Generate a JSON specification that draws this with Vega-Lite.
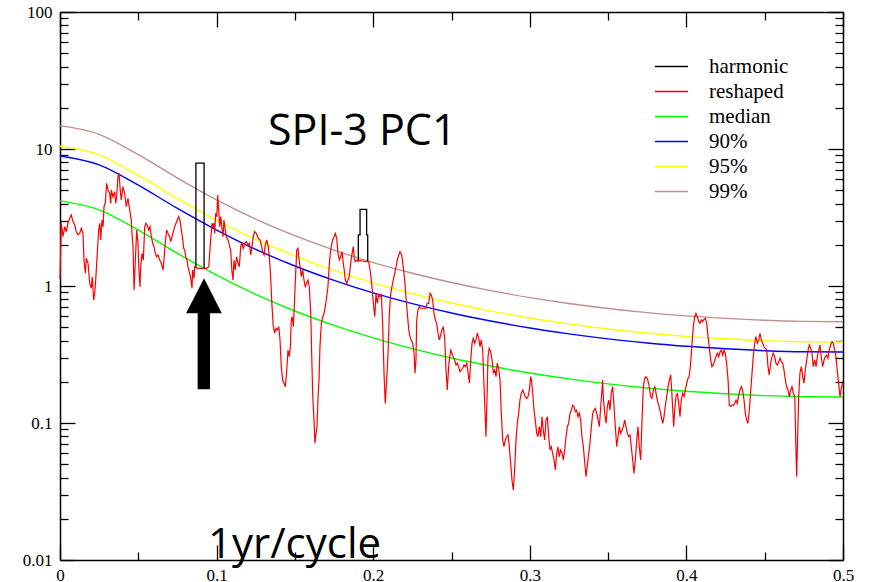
{
  "$schema": "https://vega.github.io/schema/vega-lite/v6.json",
  "width": 783,
  "height": 548,
  "autosize": {"type": "none"},
  "padding": {"left": 60, "top": 12, "right": 30, "bottom": 22},
  "background": "white",
  "config": {
    "font": "Liberation Serif",
    "view": {"stroke": null},
    "axis": {"domainColor": "black", "tickColor": "black", "labelColor": "black", "labelFont": "Liberation Serif", "labelFontSize": 17, "grid": false, "title": null, "domainWidth": 1.5, "tickWidth": 1.3}
  },
  "resolve": {"axis": {"x": "independent", "y": "independent"}},
  "datasets": {
    "bands": [
      {"s":"median","f":0,"v":4.18},{"s":"median","f":0.025,"v":3.6},{"s":"median","f":0.05,"v":2.56},{"s":"median","f":0.075,"v":1.73},{"s":"median","f":0.1,"v":1.2},{"s":"median","f":0.125,"v":0.869},{"s":"median","f":0.15,"v":0.657},{"s":"median","f":0.175,"v":0.516},{"s":"median","f":0.2,"v":0.418},{"s":"median","f":0.225,"v":0.349},{"s":"median","f":0.25,"v":0.298},{"s":"median","f":0.275,"v":0.2605},{"s":"median","f":0.3,"v":0.2318},{"s":"median","f":0.325,"v":0.2099},{"s":"median","f":0.35,"v":0.193},{"s":"median","f":0.375,"v":0.1801},{"s":"median","f":0.4,"v":0.1704},{"s":"median","f":0.425,"v":0.1633},{"s":"median","f":0.45,"v":0.1584},{"s":"median","f":0.475,"v":0.1556},{"s":"median","f":0.5,"v":0.1547},
      {"s":"90%","f":0,"v":8.9},{"s":"90%","f":0.025,"v":7.67},{"s":"90%","f":0.05,"v":5.45},{"s":"90%","f":0.075,"v":3.68},{"s":"90%","f":0.1,"v":2.56},{"s":"90%","f":0.125,"v":1.85},{"s":"90%","f":0.15,"v":1.4},{"s":"90%","f":0.175,"v":1.1},{"s":"90%","f":0.2,"v":0.89},{"s":"90%","f":0.225,"v":0.743},{"s":"90%","f":0.25,"v":0.635},{"s":"90%","f":0.275,"v":0.555},{"s":"90%","f":0.3,"v":0.494},{"s":"90%","f":0.325,"v":0.447},{"s":"90%","f":0.35,"v":0.411},{"s":"90%","f":0.375,"v":0.384},{"s":"90%","f":0.4,"v":0.363},{"s":"90%","f":0.425,"v":0.348},{"s":"90%","f":0.45,"v":0.337},{"s":"90%","f":0.475,"v":0.331},{"s":"90%","f":0.5,"v":0.33},
      {"s":"95%","f":0,"v":10.5},{"s":"95%","f":0.025,"v":9.07},{"s":"95%","f":0.05,"v":6.45},{"s":"95%","f":0.075,"v":4.36},{"s":"95%","f":0.1,"v":3.02},{"s":"95%","f":0.125,"v":2.19},{"s":"95%","f":0.15,"v":1.66},{"s":"95%","f":0.175,"v":1.3},{"s":"95%","f":0.2,"v":1.053},{"s":"95%","f":0.225,"v":0.879},{"s":"95%","f":0.25,"v":0.751},{"s":"95%","f":0.275,"v":0.656},{"s":"95%","f":0.3,"v":0.584},{"s":"95%","f":0.325,"v":0.529},{"s":"95%","f":0.35,"v":0.486},{"s":"95%","f":0.375,"v":0.454},{"s":"95%","f":0.4,"v":0.429},{"s":"95%","f":0.425,"v":0.412},{"s":"95%","f":0.45,"v":0.399},{"s":"95%","f":0.475,"v":0.392},{"s":"95%","f":0.5,"v":0.39},
      {"s":"99%","f":0,"v":14.8},{"s":"99%","f":0.025,"v":12.8},{"s":"99%","f":0.05,"v":9.09},{"s":"99%","f":0.075,"v":6.14},{"s":"99%","f":0.1,"v":4.26},{"s":"99%","f":0.125,"v":3.08},{"s":"99%","f":0.15,"v":2.33},{"s":"99%","f":0.175,"v":1.83},{"s":"99%","f":0.2,"v":1.48},{"s":"99%","f":0.225,"v":1.24},{"s":"99%","f":0.25,"v":1.06},{"s":"99%","f":0.275,"v":0.925},{"s":"99%","f":0.3,"v":0.823},{"s":"99%","f":0.325,"v":0.745},{"s":"99%","f":0.35,"v":0.685},{"s":"99%","f":0.375,"v":0.639},{"s":"99%","f":0.4,"v":0.605},{"s":"99%","f":0.425,"v":0.58},{"s":"99%","f":0.45,"v":0.562},{"s":"99%","f":0.475,"v":0.552},{"s":"99%","f":0.5,"v":0.549}
    ],
    "harm": [
      {"g":1,"i":1,"f":0.0868,"v":1.35},{"g":1,"i":2,"f":0.0868,"v":7.9},{"g":1,"i":3,"f":0.092,"v":7.9},{"g":1,"i":4,"f":0.092,"v":1.35},
      {"g":2,"i":1,"f":0.1905,"v":1.5},{"g":2,"i":2,"f":0.1905,"v":2.36},{"g":2,"i":3,"f":0.1916,"v":2.36},{"g":2,"i":4,"f":0.1916,"v":3.63},{"g":2,"i":5,"f":0.1958,"v":3.63},{"g":2,"i":6,"f":0.1958,"v":2.36},{"g":2,"i":7,"f":0.1965,"v":2.36},{"g":2,"i":8,"f":0.1965,"v":1.5}
    ],
    "red": [
      {"f":0,"v":1.125},{"f":0.0008,"v":2.87},{"f":0.0019,"v":2.29},{"f":0.003,"v":2.71},{"f":0.004,"v":2.49},{"f":0.0051,"v":2.87},{"f":0.0062,"v":3.12},{"f":0.0072,"v":3.3},{"f":0.0083,"v":2.95},{"f":0.0094,"v":2.79},{"f":0.0104,"v":2.49},{"f":0.0115,"v":2.36},{"f":0.0126,"v":2.42},{"f":0.0136,"v":2.64},{"f":0.0147,"v":2.42},{"f":0.0153,"v":1.55},{"f":0.0162,"v":1.238},{"f":0.0168,"v":1.593},{"f":0.0179,"v":1.464},{"f":0.019,"v":1.046},{"f":0.02,"v":0.962},{"f":0.0206,"v":1.169},{"f":0.0215,"v":0.79},{"f":0.0222,"v":0.885},{"f":0.0228,"v":1.106},{"f":0.0238,"v":1.733},{"f":0.0247,"v":2.56},{"f":0.0254,"v":2.87},{"f":0.026,"v":2.17},{"f":0.0268,"v":3.03},{"f":0.0275,"v":2.71},{"f":0.0281,"v":3.79},{"f":0.0289,"v":4.01},{"f":0.0298,"v":5.62},{"f":0.0307,"v":5.02},{"f":0.0317,"v":4.75},{"f":0.0324,"v":4.01},{"f":0.0328,"v":5.02},{"f":0.0338,"v":4.48},{"f":0.0349,"v":4.88},{"f":0.0356,"v":4.01},{"f":0.0362,"v":4.48},{"f":0.037,"v":6.28},{"f":0.0377,"v":6.65},{"f":0.0383,"v":5.31},{"f":0.0391,"v":4.24},{"f":0.0402,"v":5.31},{"f":0.0413,"v":4.75},{"f":0.0423,"v":3.79},{"f":0.0434,"v":4.37},{"f":0.0445,"v":3.59},{"f":0.0455,"v":3.03},{"f":0.046,"v":2.42},{"f":0.0466,"v":1.936},{"f":0.0473,"v":0.935},{"f":0.0481,"v":1.55},{"f":0.049,"v":2.56},{"f":0.0498,"v":2.05},{"f":0.0504,"v":1.309},{"f":0.0511,"v":0.988},{"f":0.0515,"v":1.383},{"f":0.0524,"v":1.733},{"f":0.0532,"v":1.55},{"f":0.0541,"v":2.71},{"f":0.0549,"v":2.87},{"f":0.0557,"v":2.79},{"f":0.0566,"v":2.56},{"f":0.0575,"v":2.71},{"f":0.0583,"v":2.29},{"f":0.0592,"v":2.05},{"f":0.06,"v":1.936},{"f":0.0609,"v":1.733},{"f":0.0617,"v":1.636},{"f":0.0626,"v":1.684},{"f":0.0637,"v":1.55},{"f":0.0647,"v":1.464},{"f":0.0658,"v":1.309},{"f":0.0664,"v":1.55},{"f":0.0672,"v":2.05},{"f":0.0681,"v":2.56},{"f":0.069,"v":2.42},{"f":0.07,"v":2.29},{"f":0.0707,"v":2.11},{"f":0.0715,"v":2.29},{"f":0.0724,"v":2.49},{"f":0.0732,"v":2.71},{"f":0.0741,"v":2.87},{"f":0.0749,"v":3.03},{"f":0.0758,"v":3.21},{"f":0.0766,"v":3.03},{"f":0.0775,"v":2.56},{"f":0.0784,"v":2.17},{"f":0.079,"v":1.884},{"f":0.0796,"v":1.831},{"f":0.0803,"v":1.636},{"f":0.0811,"v":1.55},{"f":0.0817,"v":1.383},{"f":0.0828,"v":1.238},{"f":0.0835,"v":1.138},{"f":0.0843,"v":0.962},{"f":0.0847,"v":1.309},{"f":0.0856,"v":1.138},{"f":0.086,"v":1.383},{"f":0.0881,"v":1.346},{"f":0.0934,"v":1.346},{"f":0.095,"v":1.383},{"f":0.0956,"v":1.733},{"f":0.0962,"v":2.17},{"f":0.0971,"v":2.87},{"f":0.0977,"v":2.71},{"f":0.0983,"v":2.87},{"f":0.0988,"v":2.42},{"f":0.0994,"v":3.39},{"f":0.1001,"v":3.21},{"f":0.1007,"v":4.62},{"f":0.1013,"v":3.59},{"f":0.102,"v":2.71},{"f":0.1026,"v":3.21},{"f":0.1033,"v":2.71},{"f":0.1041,"v":2.29},{"f":0.1047,"v":3.03},{"f":0.1052,"v":2.71},{"f":0.1062,"v":2.29},{"f":0.1073,"v":2.17},{"f":0.1084,"v":1.936},{"f":0.109,"v":1.831},{"f":0.1098,"v":1.272},{"f":0.1105,"v":1.106},{"f":0.1111,"v":1.55},{"f":0.1119,"v":1.309},{"f":0.1128,"v":1.636},{"f":0.1137,"v":1.464},{"f":0.1145,"v":1.383},{"f":0.1154,"v":1.936},{"f":0.1162,"v":2.05},{"f":0.117,"v":1.884},{"f":0.1179,"v":2.05},{"f":0.119,"v":2.11},{"f":0.1201,"v":1.992},{"f":0.1209,"v":2.05},{"f":0.1218,"v":1.684},{"f":0.1226,"v":1.936},{"f":0.1234,"v":2.29},{"f":0.1243,"v":2.49},{"f":0.1254,"v":2.42},
      {"f":0.1266,"v":2.23},{"f":0.1277,"v":2.17},{"f":0.1288,"v":1.936},{"f":0.1294,"v":1.78},{"f":0.1303,"v":1.684},{"f":0.1309,"v":1.936},{"f":0.132,"v":2.17},{"f":0.133,"v":1.936},{"f":0.1337,"v":1.636},{"f":0.1345,"v":1.169},{"f":0.1354,"v":0.706},{"f":0.1362,"v":0.505},{"f":0.1371,"v":0.452},{"f":0.1379,"v":0.491},{"f":0.1388,"v":0.477},{"f":0.1397,"v":0.505},{"f":0.1405,"v":0.404},{"f":0.1413,"v":0.258},{"f":0.1422,"v":0.206},{"f":0.143,"v":0.195},{"f":0.1439,"v":0.184},{"f":0.1448,"v":0.244},{"f":0.1456,"v":0.341},{"f":0.1464,"v":0.305},{"f":0.1471,"v":0.36},{"f":0.1477,"v":0.565},{"f":0.1483,"v":0.597},{"f":0.149,"v":0.505},{"f":0.1496,"v":0.706},{"f":0.1503,"v":1.106},{"f":0.1512,"v":1.831},{"f":0.152,"v":1.884},{"f":0.1524,"v":1.636},{"f":0.1533,"v":1.383},{"f":0.1541,"v":1.169},{"f":0.155,"v":1.309},{"f":0.1558,"v":1.106},{"f":0.1566,"v":0.988},{"f":0.1575,"v":1.046},{"f":0.1584,"v":1.106},{"f":0.1592,"v":0.988},{"f":0.1601,"v":0.632},{"f":0.1607,"v":0.323},{"f":0.1614,"v":0.156},{"f":0.1622,"v":0.105},{"f":0.1628,"v":0.0711},{"f":0.1635,"v":0.0841},{"f":0.1641,"v":0.094},{"f":0.1648,"v":0.156},{"f":0.1654,"v":0.206},{"f":0.166,"v":0.36},{"f":0.1669,"v":0.534},{"f":0.1678,"v":0.597},{"f":0.1686,"v":0.632},{"f":0.1694,"v":0.706},{"f":0.1703,"v":0.835},{"f":0.1711,"v":0.988},{"f":0.172,"v":1.464},{"f":0.1726,"v":1.733},{"f":0.1732,"v":1.936},{"f":0.1741,"v":2.17},{"f":0.175,"v":2.29},{"f":0.1758,"v":2.42},{"f":0.1767,"v":2.23},{"f":0.1775,"v":1.733},{"f":0.1784,"v":1.55},{"f":0.1792,"v":1.636},{"f":0.1801,"v":1.78},{"f":0.1809,"v":1.464},{"f":0.1815,"v":1.309},{"f":0.1822,"v":1.106},{"f":0.1831,"v":1.046},{"f":0.1839,"v":1.106},{"f":0.1847,"v":1.169},{"f":0.1856,"v":1.464},{"f":0.1865,"v":1.733},{"f":0.1873,"v":1.936},{"f":0.1879,"v":1.593},{"f":0.1886,"v":1.504},{"f":0.1895,"v":1.55},{"f":0.1958,"v":1.504},{"f":0.1971,"v":1.504},{"f":0.198,"v":1.309},{"f":0.1988,"v":1.106},{"f":0.1994,"v":0.935},{"f":0.2001,"v":0.748},{"f":0.201,"v":0.597},{"f":0.2018,"v":0.885},{"f":0.2026,"v":0.748},{"f":0.2035,"v":0.86},{"f":0.2043,"v":0.835},{"f":0.2052,"v":0.86},{"f":0.2061,"v":0.505},{"f":0.2069,"v":0.231},{"f":0.2077,"v":0.139},{"f":0.2086,"v":0.206},{"f":0.2095,"v":0.323},{"f":0.2103,"v":0.632},{"f":0.2112,"v":0.885},{"f":0.212,"v":0.988},{"f":0.2128,"v":1.106},{"f":0.2137,"v":1.238},{"f":0.2146,"v":1.383},{"f":0.2154,"v":1.55},{"f":0.2163,"v":1.684},{"f":0.2171,"v":1.78},{"f":0.2182,"v":1.684},{"f":0.2192,"v":1.383},{"f":0.2201,"v":1.106},{"f":0.2209,"v":0.835},{"f":0.2218,"v":0.632},{"f":0.2227,"v":0.477},{"f":0.2235,"v":0.427},{"f":0.2243,"v":0.404},{"f":0.2252,"v":0.382},{"f":0.2261,"v":0.323},{"f":0.2267,"v":0.231},{"f":0.2273,"v":0.288},{"f":0.2278,"v":0.565},{"f":0.2286,"v":0.668},{"f":0.2294,"v":0.706},{"f":0.2303,"v":0.688},{"f":0.2337,"v":0.688},{"f":0.2345,"v":0.748},{"f":0.2354,"v":0.748},{"f":0.2363,"v":0.885},{"f":0.2371,"v":0.86},{"f":0.238,"v":0.79},{"f":0.2388,"v":0.632},{"f":0.2397,"v":0.565},{"f":0.2405,"v":0.534},{"f":0.2414,"v":0.452},{"f":0.2422,"v":0.404},{"f":0.2431,"v":0.439},{"f":0.2439,"v":0.477},{"f":0.2448,"v":0.505},{"f":0.2457,"v":0.404},{"f":0.2465,"v":0.244},{"f":0.2473,"v":0.174},{"f":0.2482,"v":0.258},
      {"f":0.2486,"v":0.288},{"f":0.2495,"v":0.341},{"f":0.2503,"v":0.323},{"f":0.2511,"v":0.305},{"f":0.252,"v":0.288},{"f":0.2529,"v":0.265},{"f":0.2537,"v":0.273},{"f":0.2546,"v":0.258},{"f":0.2554,"v":0.237},{"f":0.2563,"v":0.244},{"f":0.2571,"v":0.251},{"f":0.258,"v":0.265},{"f":0.2588,"v":0.258},{"f":0.2597,"v":0.273},{"f":0.2605,"v":0.237},{"f":0.2614,"v":0.195},{"f":0.2623,"v":0.288},{"f":0.2631,"v":0.382},{"f":0.2639,"v":0.415},{"f":0.2648,"v":0.382},{"f":0.2656,"v":0.404},{"f":0.2665,"v":0.452},{"f":0.2674,"v":0.415},{"f":0.2682,"v":0.36},{"f":0.269,"v":0.404},{"f":0.2699,"v":0.341},{"f":0.2708,"v":0.184},{"f":0.2716,"v":0.105},{"f":0.272,"v":0.0794},{"f":0.2727,"v":0.156},{"f":0.2733,"v":0.305},{"f":0.2741,"v":0.351},{"f":0.275,"v":0.331},{"f":0.2759,"v":0.288},{"f":0.2767,"v":0.231},{"f":0.2776,"v":0.244},{"f":0.2784,"v":0.218},{"f":0.2792,"v":0.273},{"f":0.2801,"v":0.251},{"f":0.281,"v":0.206},{"f":0.2818,"v":0.118},{"f":0.2827,"v":0.0751},{"f":0.2835,"v":0.0671},{"f":0.2844,"v":0.0751},{"f":0.2852,"v":0.0794},{"f":0.2861,"v":0.0817},{"f":0.2869,"v":0.0671},{"f":0.2878,"v":0.0508},{"f":0.2886,"v":0.0384},{"f":0.2895,"v":0.0324},{"f":0.2904,"v":0.048},{"f":0.2912,"v":0.0751},{"f":0.292,"v":0.0995},{"f":0.2929,"v":0.118},{"f":0.2937,"v":0.147},{"f":0.2946,"v":0.165},{"f":0.2955,"v":0.174},{"f":0.2963,"v":0.165},{"f":0.2971,"v":0.156},{"f":0.298,"v":0.151},{"f":0.2989,"v":0.156},{"f":0.2997,"v":0.174},{"f":0.3006,"v":0.218},{"f":0.3012,"v":0.2},{"f":0.3019,"v":0.165},{"f":0.3027,"v":0.124},{"f":0.3035,"v":0.105},{"f":0.3044,"v":0.0841},{"f":0.3052,"v":0.0794},{"f":0.3061,"v":0.094},{"f":0.307,"v":0.0794},{"f":0.3078,"v":0.111},{"f":0.3086,"v":0.0889},{"f":0.3095,"v":0.0751},{"f":0.3103,"v":0.105},{"f":0.3112,"v":0.111},{"f":0.3121,"v":0.0794},{"f":0.3129,"v":0.0635},{"f":0.3137,"v":0.0671},{"f":0.3146,"v":0.0601},{"f":0.3155,"v":0.0537},{"f":0.3163,"v":0.0454},{"f":0.3172,"v":0.0601},{"f":0.318,"v":0.0671},{"f":0.3188,"v":0.0568},{"f":0.3197,"v":0.0635},{"f":0.3206,"v":0.0601},{"f":0.3214,"v":0.0537},{"f":0.3223,"v":0.0635},{"f":0.3231,"v":0.0794},{"f":0.324,"v":0.094},{"f":0.3248,"v":0.0995},{"f":0.3257,"v":0.118},{"f":0.3265,"v":0.124},{"f":0.3274,"v":0.135},{"f":0.3282,"v":0.132},{"f":0.3291,"v":0.121},{"f":0.3299,"v":0.124},{"f":0.3308,"v":0.111},{"f":0.3316,"v":0.118},{"f":0.3325,"v":0.105},{"f":0.3333,"v":0.0794},{"f":0.3342,"v":0.0671},{"f":0.3351,"v":0.0508},{"f":0.3359,"v":0.0406},{"f":0.3367,"v":0.048},{"f":0.3376,"v":0.0601},{"f":0.3384,"v":0.0711},{"f":0.3393,"v":0.094},{"f":0.3402,"v":0.118},{"f":0.341,"v":0.124},{"f":0.3418,"v":0.128},{"f":0.3427,"v":0.118},{"f":0.3436,"v":0.105},{"f":0.3444,"v":0.094},{"f":0.3453,"v":0.132},{"f":0.3461,"v":0.174},{"f":0.3465,"v":0.206},{"f":0.3469,"v":0.156},{"f":0.3478,"v":0.118},{"f":0.3487,"v":0.0995},{"f":0.3495,"v":0.132},{"f":0.3504,"v":0.147},{"f":0.3512,"v":0.124},{"f":0.352,"v":0.165},{"f":0.3529,"v":0.184},{"f":0.3538,"v":0.132},{"f":0.3546,"v":0.094},{"f":0.3555,"v":0.0671},{"f":0.3563,"v":0.0794},{"f":0.3572,"v":0.094},{"f":0.358,"v":0.0841},{"f":0.3589,"v":0.0889},{"f":0.3597,"v":0.094},{"f":0.3606,"v":0.105},{"f":0.3614,"v":0.094},{"f":0.3623,"v":0.0841},{"f":0.3632,"v":0.0794},{"f":0.364,"v":0.0817},{"f":0.3648,"v":0.0671},{"f":0.3657,"v":0.0537},{"f":0.3665,"v":0.0429},{"f":0.3674,"v":0.0537},{"f":0.3683,"v":0.0751},{"f":0.3691,"v":0.094},{"f":0.3699,"v":0.0671},{"f":0.3708,"v":0.0537},{"f":0.3716,"v":0.0995},{"f":0.3725,"v":0.184},{"f":0.3734,"v":0.212},{"f":0.3742,"v":0.218},{"f":0.375,"v":0.212},{"f":0.3759,"v":0.195},
      {"f":0.3772,"v":0.156},{"f":0.378,"v":0.151},{"f":0.3789,"v":0.174},{"f":0.3798,"v":0.184},{"f":0.3806,"v":0.165},{"f":0.3814,"v":0.147},{"f":0.3823,"v":0.135},{"f":0.3831,"v":0.124},{"f":0.384,"v":0.111},{"f":0.3849,"v":0.0995},{"f":0.3857,"v":0.111},{"f":0.3865,"v":0.132},{"f":0.3874,"v":0.156},{"f":0.3883,"v":0.184},{"f":0.3891,"v":0.206},{"f":0.39,"v":0.224},{"f":0.3906,"v":0.174},{"f":0.3913,"v":0.124},{"f":0.3919,"v":0.094},{"f":0.3925,"v":0.124},{"f":0.3934,"v":0.156},{"f":0.3942,"v":0.165},{"f":0.3951,"v":0.139},{"f":0.3959,"v":0.111},{"f":0.3967,"v":0.147},{"f":0.3976,"v":0.165},{"f":0.3985,"v":0.156},{"f":0.3993,"v":0.174},{"f":0.4002,"v":0.195},{"f":0.401,"v":0.212},{"f":0.4018,"v":0.218},{"f":0.4027,"v":0.273},{"f":0.4036,"v":0.382},{"f":0.4044,"v":0.505},{"f":0.4053,"v":0.597},{"f":0.4061,"v":0.632},{"f":0.407,"v":0.597},{"f":0.4079,"v":0.549},{"f":0.4087,"v":0.534},{"f":0.4095,"v":0.565},{"f":0.4104,"v":0.549},{"f":0.4112,"v":0.571},{"f":0.4121,"v":0.581},{"f":0.413,"v":0.534},{"f":0.4138,"v":0.427},{"f":0.4146,"v":0.36},{"f":0.4155,"v":0.288},{"f":0.4163,"v":0.258},{"f":0.4172,"v":0.265},{"f":0.4181,"v":0.288},{"f":0.4189,"v":0.305},{"f":0.4197,"v":0.323},{"f":0.4206,"v":0.305},{"f":0.4215,"v":0.331},{"f":0.4223,"v":0.341},{"f":0.4232,"v":0.313},{"f":0.424,"v":0.341},{"f":0.4248,"v":0.323},{"f":0.4257,"v":0.273},{"f":0.4266,"v":0.206},{"f":0.4274,"v":0.135},{"f":0.4283,"v":0.132},{"f":0.4291,"v":0.135},{"f":0.43,"v":0.135},{"f":0.4308,"v":0.139},{"f":0.4317,"v":0.147},{"f":0.4325,"v":0.139},{"f":0.4334,"v":0.16},{"f":0.4342,"v":0.174},{"f":0.4351,"v":0.184},{"f":0.4359,"v":0.174},{"f":0.4368,"v":0.147},{"f":0.4376,"v":0.118},{"f":0.4385,"v":0.105},{"f":0.4393,"v":0.0995},{"f":0.4402,"v":0.124},{"f":0.4411,"v":0.174},{"f":0.4419,"v":0.231},{"f":0.4427,"v":0.305},{"f":0.4436,"v":0.382},{"f":0.4444,"v":0.427},{"f":0.4453,"v":0.382},{"f":0.4462,"v":0.404},{"f":0.447,"v":0.452},{"f":0.4478,"v":0.404},{"f":0.4487,"v":0.382},{"f":0.4496,"v":0.36},{"f":0.4504,"v":0.351},{"f":0.4513,"v":0.341},{"f":0.4521,"v":0.258},{"f":0.4529,"v":0.224},{"f":0.4538,"v":0.273},{"f":0.4547,"v":0.305},{"f":0.4555,"v":0.323},{"f":0.4564,"v":0.305},{"f":0.4572,"v":0.273},{"f":0.458,"v":0.265},{"f":0.4589,"v":0.28},{"f":0.4598,"v":0.297},{"f":0.4606,"v":0.28},{"f":0.4615,"v":0.273},{"f":0.4623,"v":0.244},{"f":0.4632,"v":0.206},{"f":0.464,"v":0.184},{"f":0.4649,"v":0.174},{"f":0.4657,"v":0.156},{"f":0.4666,"v":0.174},{"f":0.4674,"v":0.184},{"f":0.4683,"v":0.165},{"f":0.4692,"v":0.156},{"f":0.4698,"v":0.0751},{"f":0.4704,"v":0.0406},{"f":0.4711,"v":0.0841},{"f":0.4717,"v":0.156},{"f":0.4725,"v":0.231},{"f":0.4734,"v":0.258},{"f":0.4743,"v":0.218},{"f":0.4751,"v":0.195},{"f":0.4759,"v":0.244},{"f":0.4768,"v":0.288},{"f":0.4777,"v":0.341},{"f":0.4785,"v":0.371},{"f":0.4794,"v":0.351},{"f":0.4802,"v":0.323},{"f":0.481,"v":0.258},{"f":0.4819,"v":0.288},{"f":0.4828,"v":0.258},{"f":0.4836,"v":0.305},{"f":0.4845,"v":0.341},{"f":0.4853,"v":0.371},{"f":0.4861,"v":0.305},{"f":0.487,"v":0.258},{"f":0.4879,"v":0.288},{"f":0.4887,"v":0.305},{"f":0.4896,"v":0.313},{"f":0.4904,"v":0.297},{"f":0.4912,"v":0.341},{"f":0.4921,"v":0.371},{"f":0.493,"v":0.392},{"f":0.4938,"v":0.382},{"f":0.4947,"v":0.341},{"f":0.4955,"v":0.305},{"f":0.4963,"v":0.244},{"f":0.4972,"v":0.195},{"f":0.4981,"v":0.156},{"f":0.4989,"v":0.179},{"f":0.4997,"v":0.195}
    ]
  },
  "layer": [
    {
      "data": {"name": "bands"},
      "mark": {"type": "line", "interpolate": "monotone", "strokeWidth": 1.4},
      "encoding": {
        "x": {"field": "f", "type": "quantitative", "scale": {"domain": [0, 0.5], "nice": false, "zero": false},
              "axis": {"orient": "bottom", "values": [0, 0.1, 0.2, 0.3, 0.4, 0.5], "ticks": false, "domainColor": "black", "domainWidth": 1.5, "labelColor": "black", "labelFontSize": 17, "labelPadding": 7, "labelBaseline": "top", "labelFlush": false, "labelFont": "Liberation Serif", "labelExpr": "'' + datum.value"}},
        "y": {"field": "v", "type": "quantitative", "scale": {"type": "log", "domain": [0.01, 100], "nice": false},
              "axis": {"orient": "left", "values": [0.01, 0.1, 1, 10, 100], "ticks": false, "domainColor": "black", "domainWidth": 1.5, "labelColor": "black", "labelFontSize": 17, "labelPadding": 8, "labelFont": "Liberation Serif", "labelExpr": "'' + datum.value"}},
        "color": {"field": "s", "type": "nominal",
                  "scale": {"domain": ["harmonic", "reshaped", "median", "90%", "95%", "99%"], "range": ["#000000", "#ff0000", "#00ff00", "#0000ff", "#ffff00", "#c09090"]},
                  "legend": {"orient": "none", "legendX": 601, "legendY": 44, "title": null, "symbolType": "M-3,0H3", "symbolSize": 121, "symbolStrokeWidth": 1.5, "labelFont": "Liberation Serif", "labelFontSize": 21, "labelColor": "black", "labelOffset": 27, "rowPadding": 3, "padding": 0}}
      }
    },
    {
      "data": {"name": "harm"},
      "mark": {"type": "line", "strokeWidth": 1.3},
      "encoding": {
        "x": {"field": "f", "type": "quantitative", "axis": {"orient": "top", "offset": -548, "values": [0, 0.1, 0.2, 0.3, 0.4, 0.5], "tickSize": 15, "tickColor": "black", "tickWidth": 1.3, "labels": false, "domain": false}},
        "y": {"field": "v", "type": "quantitative", "axis": {"orient": "right", "offset": -783, "values": [0.01, 0.1, 1, 10, 100], "tickSize": 15, "tickColor": "black", "tickWidth": 1.3, "labels": false, "domain": false}},
        "detail": {"field": "g"},
        "order": {"field": "i"},
        "color": {"datum": "harmonic", "type": "nominal"}
      }
    },
    {
      "data": {"name": "red"},
      "mark": {"type": "line", "strokeWidth": 1.2},
      "encoding": {
        "x": {"field": "f", "type": "quantitative", "axis": {"orient": "top", "offset": -548, "values": [0.05, 0.15, 0.25, 0.35, 0.45], "tickSize": 8, "tickColor": "black", "tickWidth": 1.3, "labels": false, "domain": false}},
        "y": {"field": "v", "type": "quantitative", "axis": {"orient": "right", "offset": -783, "values": [0.02,0.03,0.04,0.05,0.06,0.07,0.08,0.09,0.2,0.3,0.4,0.5,0.6,0.7,0.8,0.9,2,3,4,5,6,7,8,9,20,30,40,50,60,70,80,90], "tickSize": 8, "tickColor": "black", "tickWidth": 1.3, "labels": false, "domain": false}},
        "color": {"datum": "reshaped", "type": "nominal"}
      }
    },
    {
      "data": {"values": [{"x": 0.0879, "x2": 0.0958, "y": 0.66, "y2": 0.176}]},
      "mark": {"type": "rect", "color": "black"},
      "encoding": {
        "x": {"field": "x", "type": "quantitative", "axis": {"orient": "bottom", "offset": -548, "values": [0, 0.1, 0.2, 0.3, 0.4, 0.5], "tickSize": 15, "tickColor": "black", "tickWidth": 1.3, "labels": false, "domain": true, "domainColor": "black", "domainWidth": 1.5}},
        "x2": {"field": "x2"},
        "y": {"field": "y", "type": "quantitative", "axis": {"orient": "left", "offset": -783, "values": [0.01, 0.1, 1, 10, 100], "tickSize": 15, "tickColor": "black", "tickWidth": 1.3, "labels": false, "domain": true, "domainColor": "black", "domainWidth": 1.5}},
        "y2": {"field": "y2"}
      }
    },
    {
      "data": {"values": [{"f": 0.0805, "top": 0.632, "bot": 0.632}, {"f": 0.092, "top": 1.138, "bot": 0.632}, {"f": 0.1033, "top": 0.632, "bot": 0.632}]},
      "mark": {"type": "area", "color": "black", "orient": "vertical"},
      "encoding": {
        "x": {"field": "f", "type": "quantitative", "axis": {"orient": "bottom", "offset": -548, "values": [0.05, 0.15, 0.25, 0.35, 0.45], "tickSize": 8, "tickColor": "black", "tickWidth": 1.3, "labels": false, "domain": false}},
        "y": {"field": "top", "type": "quantitative", "axis": {"orient": "left", "offset": -783, "values": [0.02,0.03,0.04,0.05,0.06,0.07,0.08,0.09,0.2,0.3,0.4,0.5,0.6,0.7,0.8,0.9,2,3,4,5,6,7,8,9,20,30,40,50,60,70,80,90], "tickSize": 8, "tickColor": "black", "tickWidth": 1.3, "labels": false, "domain": false}},
        "y2": {"field": "bot"}
      }
    },
    {
      "data": {"values": [{"t": "SPI-3 PC1", "f": 0.193, "v": 10.7}]},
      "mark": {"type": "text", "font": "Open Sans", "fontSize": 43, "align": "center", "baseline": "alphabetic", "color": "black"},
      "encoding": {
        "x": {"field": "f", "type": "quantitative", "axis": null},
        "y": {"field": "v", "type": "quantitative", "axis": null},
        "text": {"field": "t"}
      }
    },
    {
      "data": {"values": [{"t": "1yr/cycle", "f": 0.0945, "v": 0.0104}]},
      "mark": {"type": "text", "font": "Open Sans", "fontSize": 42, "align": "left", "baseline": "alphabetic", "color": "black"},
      "encoding": {
        "x": {"field": "f", "type": "quantitative", "axis": null},
        "y": {"field": "v", "type": "quantitative", "axis": null},
        "text": {"field": "t"}
      }
    }
  ]
}
